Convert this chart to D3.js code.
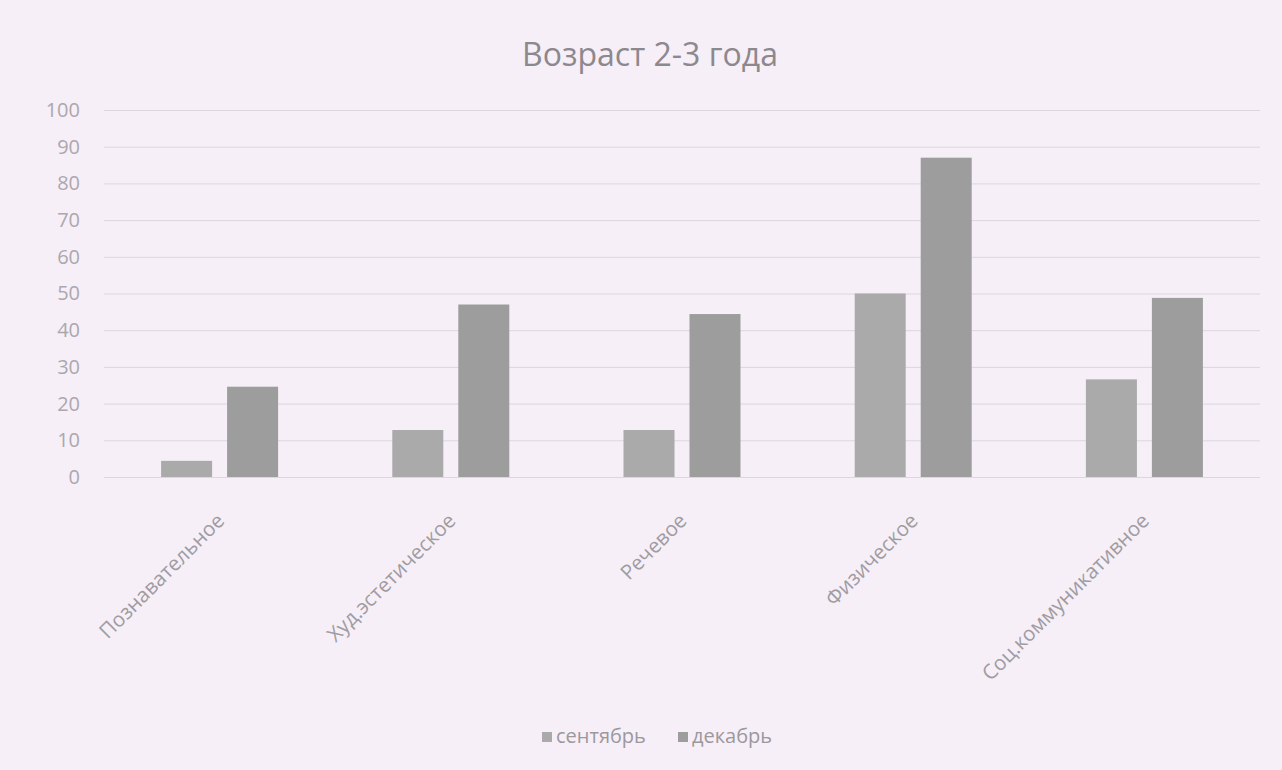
<!DOCTYPE html>
<html><head><meta charset="utf-8">
<script src="https://cdn.jsdelivr.net/npm/d3@7"></script>
<style>body{margin:0;background:#f6eff7;}svg{display:block;}svg text{font-family:"Open Sans","Noto Sans",sans-serif;}</style>
</head><body>
<svg id="c" width="1282" height="770"></svg>
<script>
const categories = ["Познавательное","Худ.эстетическое","Речевое","Физическое","Соц.коммуникативное"];
const seriesNames = ["сентябрь","декабрь"];
const september = [4.4, 12.8, 12.8, 50, 26.6];
const december = [24.6, 47, 44.4, 87, 48.8];
const yTicks = [0,10,20,30,40,50,60,70,80,90,100];
const colors = ["#aaaaaa","#9d9d9d"];
const FONT = '"Open Sans","Noto Sans",sans-serif';

const svg = d3.select("#c");
svg.append("rect").attr("width",1282).attr("height",770).attr("fill","#f6eff7");
const m = {l:104, r:1260, t:110, b:477};
const x = d3.scaleBand().domain(categories).range([m.l,m.r]);
const x1 = d3.scaleBand().domain(seriesNames).range([0,117]).paddingInner(0.227);
const y = d3.scaleLinear().domain([0,100]).range([m.b,m.t]);

// gridlines
svg.append("g").selectAll("line").data(yTicks).join("line")
  .attr("x1",m.l).attr("x2",m.r).attr("y1",d=>y(d)+0.5).attr("y2",d=>y(d)+0.5)
  .attr("stroke","#dcd6de").attr("stroke-width",1);

// y axis labels
const ya = svg.append("g").attr("transform",`translate(${m.l},0)`)
  .call(d3.axisLeft(y).tickValues(yTicks).tickSize(0).tickPadding(24));
ya.attr("font-family",FONT).attr("font-size",20);
ya.select(".domain").remove();
ya.selectAll("text").attr("fill","#aca7ae");

// bars
const data = categories.map((c,i)=>({c, vals:[september[i],december[i]]}));
const g = svg.append("g").selectAll("g").data(data).join("g")
  .attr("transform",d=>`translate(${x(d.c)+x.bandwidth()/2-58.5},0)`);
g.selectAll("rect").data(d=>d.vals.map((v,j)=>({s:seriesNames[j],v,j}))).join("rect")
  .attr("x",d=>x1(d.s)).attr("width",x1.bandwidth())
  .attr("y",d=>y(d.v)).attr("height",d=>y(0)-y(d.v))
  .attr("fill",d=>colors[d.j]);

// x labels
const xa = svg.append("g").attr("transform",`translate(0,${m.b})`)
  .call(d3.axisBottom(x).tickSize(0).tickPadding(0));
xa.attr("font-family",FONT).attr("font-size",20.5);
xa.select(".domain").remove();
xa.selectAll("text").attr("fill","#a09ca2")
  .attr("text-anchor","end").attr("x",0).attr("y",0).attr("dy",0)
  .attr("transform","translate(6,45) rotate(-45)");

// title
svg.append("text").attr("x",650).attr("y",66).attr("text-anchor","middle")
  .attr("fill","#8c888e").style("font-size","32px").text("Возраст 2-3 года");

// legend
const lg = svg.append("g").attr("font-size",20).attr("fill","#9c989e");
const lx = [542, 678];
seriesNames.forEach((s,i)=>{
  lg.append("rect").attr("x",lx[i]).attr("y",732).attr("width",10).attr("height",10).attr("fill",colors[i]);
  lg.append("text").attr("x",lx[i]+14).attr("y",743).text(s);
});
</script>
</body></html>
